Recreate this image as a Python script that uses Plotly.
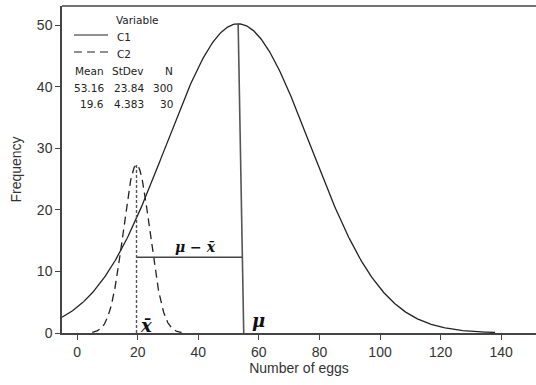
import numpy as np
import plotly.graph_objects as go

# Fitted normal summaries for the two samples (Mean, StDev, N)
variables = ["C1", "C2"]
means = [53.16, 19.6]
stdevs = [23.84, 4.383]
counts = [300, 30]
bin_width = 10.0  # histogram bin width the fitted curves are scaled to

# x-span over which each fitted curve is drawn
spans = [(-5.0, 138.0), (5.0, 34.5)]

x_ticks = [0, 20, 40, 60, 80, 100, 120, 140]
y_ticks = [0, 10, 20, 30, 40, 50]

# marker lines: population mean and sample mean, plus the gap between them
mu_top_x, mu_bottom_x = 53.16, 55.0
gap_level = 12.3


def fitted_frequency(x, m, s, n):
    return n * bin_width * np.exp(-0.5 * ((x - m) / s) ** 2) / (s * np.sqrt(2 * np.pi))


fig = go.Figure()
dashes = ["solid", "8px,5px"]
for name, m, s, n, (a, b), d in zip(variables, means, stdevs, counts, spans, dashes):
    xs = np.linspace(a, b, 400)
    fig.add_trace(go.Scatter(
        x=xs, y=fitted_frequency(xs, m, s, n), mode="lines", name=name,
        line=dict(color="#222222", width=1.3, dash=d), showlegend=False,
        hoverinfo="skip"))

peak_c1 = fitted_frequency(means[0], means[0], stdevs[0], counts[0])
peak_c2 = fitted_frequency(means[1], means[1], stdevs[1], counts[1])

# population mean line (from the C1 peak down to the axis)
fig.add_trace(go.Scatter(x=[mu_top_x, mu_bottom_x], y=[peak_c1, 0], mode="lines",
                         line=dict(color="#555555", width=1.6), showlegend=False, hoverinfo="skip"))
# sample mean line (dotted, up to the C2 peak)
fig.add_trace(go.Scatter(x=[means[1], means[1]], y=[0, peak_c2], mode="lines",
                         line=dict(color="#555555", width=1.4, dash="3px,2px"),
                         showlegend=False, hoverinfo="skip"))
# horizontal gap mu - xbar
gap_right = mu_top_x + (mu_bottom_x - mu_top_x) * (1 - gap_level / peak_c1)
fig.add_trace(go.Scatter(x=[means[1], gap_right], y=[gap_level, gap_level], mode="lines",
                         line=dict(color="#444444", width=1.4), showlegend=False, hoverinfo="skip"))

sym_font = dict(family="DejaVu Serif", size=18, color="#111111")
fig.add_annotation(x=39.0, y=gap_level, yshift=10, text="<b><i>μ − x̄</i></b>",
                   showarrow=False, font=dict(family="DejaVu Serif", size=14, color="#111111"))
fig.add_annotation(x=22.8, y=1.2, text="<b><i>x̄</i></b>", showarrow=False, font=sym_font)
fig.add_annotation(x=60.0, y=2.0, text="<b><i>μ</i></b>", showarrow=False, font=sym_font)

# ---- hand-built legend with summary table (paper coordinates) ----
L, R, B, T = 62, 536, 333, 6
W, H = R - L, B - T


def px(xp):
    return (xp - L) / W


def py(yp):
    return (B - yp) / H


leg_font = dict(family="DejaVu Sans", size=10.5, color="#222222")
text_lift = 6
fig.add_annotation(xref="paper", yref="paper", x=px(114), y=py(18), yshift=text_lift,
                   text="Variable", xanchor="left", showarrow=False, font=leg_font)
for i, (name, d) in enumerate(zip(variables, dashes)):
    yy = 35 + 17 * i
    fig.add_shape(type="line", xref="paper", yref="paper", x0=px(74), x1=px(108),
                  y0=py(yy), y1=py(yy), line=dict(color="#222222", width=1.2, dash=d))
    fig.add_annotation(xref="paper", yref="paper", x=px(115), y=py(yy), yshift=text_lift,
                       text=name, xanchor="left", showarrow=False, font=leg_font)

col_right = [106, 146, 175]
headers = ["Mean", "StDev", "N"]
for cx, h in zip(col_right, headers):
    fig.add_annotation(xref="paper", yref="paper", x=px(cx), y=py(69), yshift=text_lift,
                       text=h, xanchor="right", showarrow=False, font=leg_font)
for r, (m, s, n) in enumerate(zip(means, stdevs, counts)):
    yy = 86 + 16 * r
    for cx, v in zip(col_right, [f"{m:g}", f"{s:g}", f"{n}"]):
        fig.add_annotation(xref="paper", yref="paper", x=px(cx), y=py(yy), yshift=text_lift,
                           text=v, xanchor="right", showarrow=False, font=leg_font)

# top frame edge
fig.add_shape(type="line", xref="paper", yref="paper", x0=0, x1=1, y0=1, y1=1,
              line=dict(color="#444444", width=1.5))

axis_font = dict(family="Liberation Sans, Arial", size=14, color="#333333")
title_font = dict(family="Liberation Sans, Arial", size=14, color="#333333")
fig.update_layout(
    width=536, height=385,
    margin=dict(l=L, r=536 - R, t=T, b=385 - B),
    paper_bgcolor="white", plot_bgcolor="white",
    xaxis=dict(range=[-5, 151.5], tickvals=x_ticks, ticks="outside", ticklen=5,
               tickcolor="#444444", showline=True, linecolor="#444444", linewidth=1.5,
               showgrid=False, zeroline=False, tickfont=axis_font,
               title=dict(text="Number of eggs", font=title_font, standoff=5)),
    yaxis=dict(range=[0, 53.1], tickvals=y_ticks, ticks="outside", ticklen=5,
               tickcolor="#444444", showline=True, linecolor="#444444", linewidth=1.5,
               showgrid=False, zeroline=False, tickfont=axis_font,
               title=dict(text="Frequency", font=title_font, standoff=12)),
)

fig.write_html("out.html")
